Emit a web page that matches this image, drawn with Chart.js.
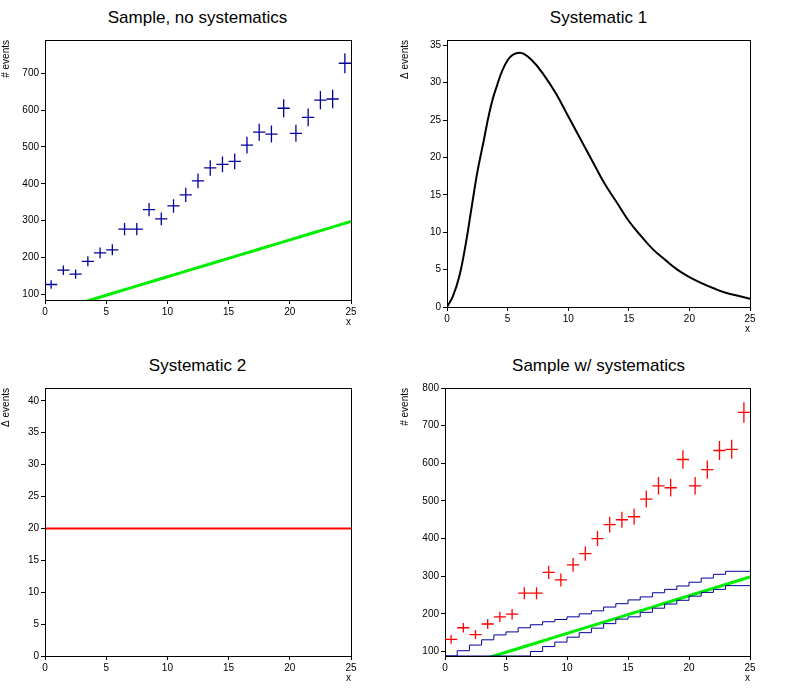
<!DOCTYPE html>
<html>
<head>
<meta charset="UTF-8">
<script src="https://cdn.jsdelivr.net/npm/chart.js"></script>
<style>
  body { margin: 0; background: #fff; font-family: "Liberation Sans", Arial, sans-serif; }
  .pane { position: absolute; width: 399px; height: 348px; }
  .title { position: absolute; width: 100%; text-align: center; font-size: 17px; top: 8px; }
  canvas { position: absolute; left: 0; top: 0; }
</style>
</head>
<body>
<div class="pane" style="left:0;top:0"><div class="title" style="left:-2px">Sample, no systematics</div><canvas id="c1" width="399" height="348"></canvas></div>
<div class="pane" style="left:399px;top:0"><div class="title">Systematic 1</div><canvas id="c2" width="399" height="348"></canvas></div>
<div class="pane" style="left:0;top:348px"><div class="title" style="left:-2px">Systematic 2</div><canvas id="c3" width="399" height="348"></canvas></div>
<div class="pane" style="left:399px;top:348px"><div class="title">Sample w/ systematics</div><canvas id="c4" width="399" height="348"></canvas></div>
<script>
// bin centres 0.5 .. 24.5
const binCenters = [0.5,1.5,2.5,3.5,4.5,5.5,6.5,7.5,8.5,9.5,10.5,11.5,12.5,13.5,14.5,15.5,16.5,17.5,18.5,19.5,20.5,21.5,22.5,23.5,24.5];
const binEdges = [0,1,2,3,4,5,6,7,8,9,10,11,12,13,14,15,16,17,18,19,20,21,22,23,24,25];
const sampleCounts = [127,166,155,190,213,221,277,277,330,305,340,370,408,443,453,461,505,540,535,605,537,580,627,630,727];
const systCounts = [132,163,145,173,192,199,255,255,310,290,330,360,400,437,450,458,505,540,535,610,540,583,634,637,735];
const bkgLine = [48,58,68,78,88,98,108,118,128,138,148,158,168,178,188,198,208,218,228,238,248,258,268,278,288,298];
const bandUp = [88,88,102,117,131,144,152,163,171,179,185,192,200,208,218,227,237,245,256,265,274,284,295,305,313,313];
const bandDown = [88,88,88,88,88,88,88,88,100,113,125,138,150,162,174,186,192,204,215,226,236,247,257,265,275,275];
const syst1X = [0,0.5,1,1.5,2,2.5,3,3.5,4,5,6,7,8,9,10,11,12,13,14,15,16,17,18,19,20,21,22,23,24,25];
const syst1Y = [0,1.5,4,8,13,18,22,26,29,33,34,33,31,28.5,25.5,22.5,19.5,16.5,14,11.5,9.5,7.7,6.3,5,4,3.2,2.5,1.9,1.5,1.1];
const syst2Y = [20,20];

const font = { family: "Liberation Sans", size: 10 };

const frame = {
  id: 'frame',
  afterDatasetsDraw(chart) {
    const a = chart.chartArea, ctx = chart.ctx;
    ctx.save();
    ctx.strokeStyle = '#000'; ctx.lineWidth = 1;
    ctx.strokeRect(a.left + 0.5, a.top + 0.5, a.right - a.left, a.bottom - a.top);
    // error crosses
    chart.data.datasets.forEach(ds => {
      if (!ds.errors) return;
      const xs = chart.scales.x, ys = chart.scales.y;
      ctx.strokeStyle = ds.borderColor; ctx.lineWidth = 1.3;
      ctx.beginPath();
      ds.data.forEach(p => {
        const e = Math.sqrt(p.y);
        const px = xs.getPixelForValue(p.x), py = ys.getPixelForValue(p.y);
        ctx.moveTo(xs.getPixelForValue(p.x - 0.5), py);
        ctx.lineTo(xs.getPixelForValue(p.x + 0.5), py);
        ctx.moveTo(px, Math.min(ys.getPixelForValue(p.y - e), a.bottom));
        ctx.lineTo(px, ys.getPixelForValue(p.y + e));
      });
      ctx.stroke();
    });
    ctx.restore();
  }
};

function makeChart(id, datasets, yMin, yMax, yStep, yLabel, yWidth, padBottom) {
  return new Chart(document.getElementById(id), {
    type: 'line',
    data: { datasets },
    plugins: [frame],
    options: {
      responsive: false, animation: false, events: [],
      layout: { padding: { top: 40, right: 48, left: 0, bottom: padBottom } },
      plugins: { legend: { display: false }, tooltip: { enabled: false } },
      elements: { point: { radius: 0 } },
      scales: {
        x: {
          type: 'linear', min: 0, max: 25,
          ticks: { stepSize: 5, color: '#000', font, padding: 2, maxRotation: 0 },
          grid: { drawOnChartArea: false, tickLength: 4, color: '#000' },
          border: { display: false },
          title: { display: true, text: 'x', align: 'end', color: '#000', font, padding: 0 },
          afterFit(s) { s.height = 28; }
        },
        y: {
          min: yMin, max: yMax,
          ticks: { stepSize: yStep, color: '#000', font, padding: 2 },
          afterBuildTicks(s) {
            s.ticks = [];
            for (let v = Math.ceil(yMin / yStep) * yStep; v <= yMax; v += yStep) s.ticks.push({ value: v });
          },
          grid: { drawOnChartArea: false, tickLength: 4, color: '#000' },
          border: { display: false },
          title: { display: true, text: yLabel, align: 'end', color: '#000', font, padding: 0 },
          afterFit(s) { s.width = yWidth; }
        }
      }
    }
  });
}

const pts = (xs, ys) => xs.map((x, i) => ({ x, y: ys[i] }));

makeChart('c1', [
  { data: pts(binCenters, sampleCounts), borderColor: '#000099', showLine: false, errors: true },
  { data: pts(binEdges, bkgLine), borderColor: '#00ee00', borderWidth: 3 }
], 85, 790, 100, '# events', 45, 20);

makeChart('c2', [
  { data: pts(syst1X, syst1Y), borderColor: '#000', borderWidth: 2, tension: 0.4 }
], 0, 35.7, 5, '\u0394 events', 48, 13);

makeChart('c3', [
  { data: pts([0, 25], syst2Y), borderColor: '#ff0000', borderWidth: 2 }
], 0, 42, 5, '\u0394 events', 45, 12);

makeChart('c4', [
  { data: pts(binEdges, bandUp), borderColor: '#000099', borderWidth: 1, stepped: 'after' },
  { data: pts(binEdges, bandDown), borderColor: '#000099', borderWidth: 1, stepped: 'after' },
  { data: pts(binEdges, bkgLine), borderColor: '#00ee00', borderWidth: 3 },
  { data: pts(binCenters, systCounts), borderColor: '#ff0000', showLine: false, errors: true }
], 88, 800, 100, '# events', 46, 12);
</script>
</body>
</html>
